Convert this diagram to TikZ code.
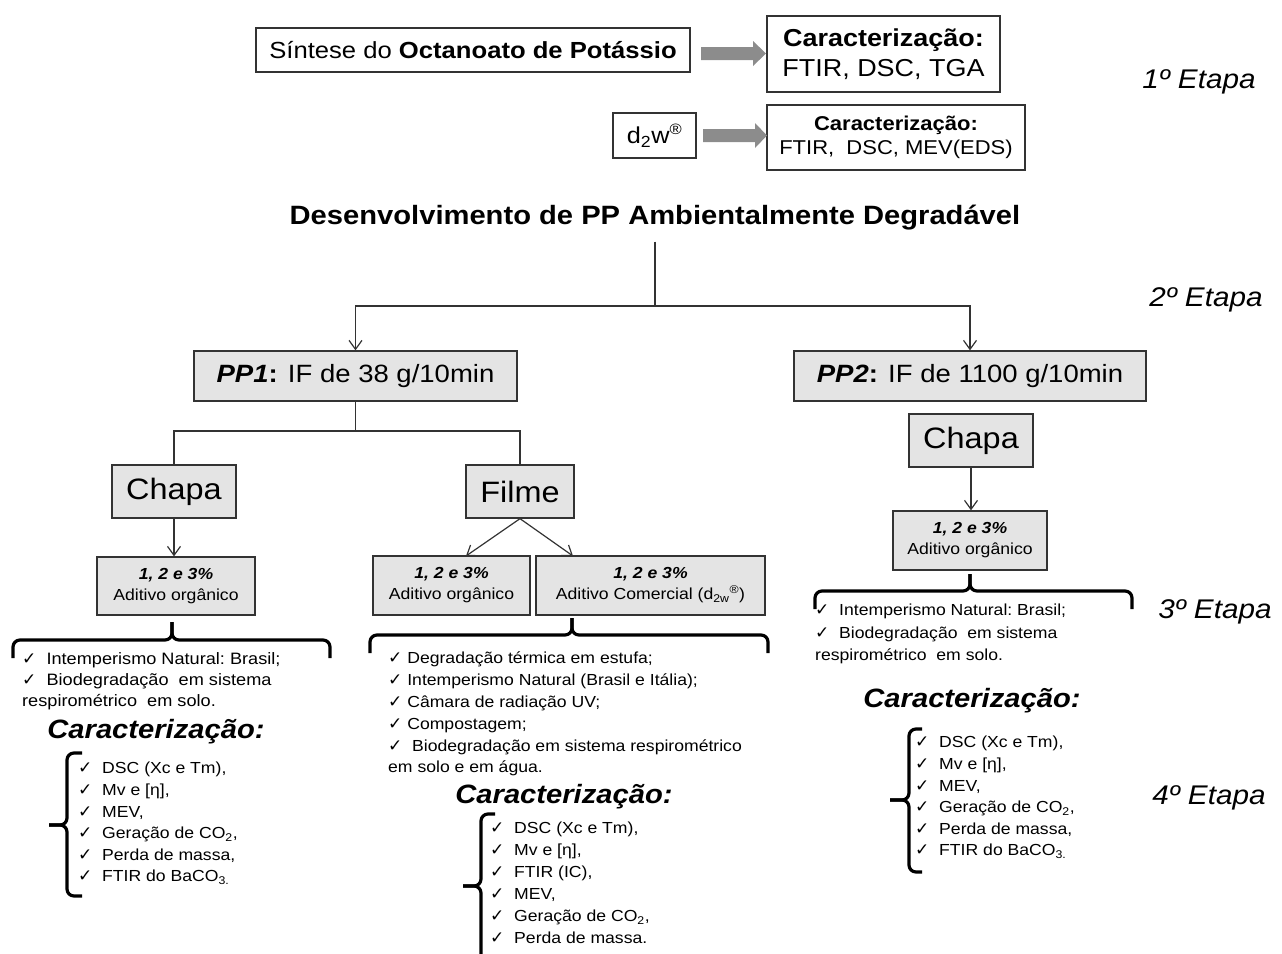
\documentclass[tikz,border=0pt]{standalone}
\usepackage{fontspec}
\setmainfont{Liberation Sans}[FakeStretch=1.1]
\newfontfamily\symfont{DejaVu Sans}
\usetikzlibrary{arrows.meta}
\definecolor{ink}{HTML}{333333}
\definecolor{boxgray}{HTML}{E4E4E4}
\definecolor{arrowgray}{HTML}{8C8C8C}
\newcommand{\ck}{{\symfont\fontsize{17}{15}\selectfont ✓}}
\newcommand{\fs}[2]{\fontsize{#1}{#2}\selectfont}
\tikzset{
  plain/.style={draw=ink, line width=1.3pt, fill=white, inner sep=0pt, align=center},
  shaded/.style={plain, fill=boxgray},
  link/.style={draw=ink, line width=1.2pt},
  arr/.style={link, -{Straight Barb[length=9pt,width=13pt,line width=1.2pt]}},
  bracket/.style={draw=black, line width=3.2pt, rounded corners=7pt},
  etapa/.style={font=\fs{27}{30}\itshape, inner sep=0pt},
  head/.style={font=\fs{26.5}{28}\bfseries\itshape, inner sep=0pt},
  list/.style={anchor=north west, align=left, inner sep=0pt},
  pct/.style={shaded, font=\fs{16}{21}},
}
\begin{document}
\begin{tikzpicture}[x=1pt,y=-1pt]
\useasboundingbox (0,0) rectangle (1282,953);

% ---- step 1: synthesis and characterisation
\node[plain, minimum width=434, minimum height=44, font=\fs{23.3}{26}] (syn) at (473,50)
  {Síntese do \textbf{Octanoato de Potássio}};
\node[plain, minimum width=233, minimum height=76, font=\fs{24.5}{30}] (car1) at (883.5,54)
  {\textbf{Caracterização:}\\FTIR, DSC, TGA};
\node[plain, minimum width=83, minimum height=45, font=\fs{23}{26}] (dw) at (654.5,135.5)
  {d\textsubscript{2}w\textsuperscript{\fs{15}{15}®}};
\node[plain, minimum width=258, minimum height=65, font=\fs{20}{24}] (car2) at (896,137.5)
  {\textbf{Caracterização:}\\FTIR,\ \ DSC, MEV(EDS)};
\fill[arrowgray] (701,47) -- (753,47) -- (753,41) -- (766,53.5) -- (753,66) -- (753,60) -- (701,60) -- cycle;
\fill[arrowgray] (703,129) -- (755,129) -- (755,123) -- (767,135.5) -- (755,148) -- (755,142) -- (703,142) -- cycle;

\node[etapa] (e1) at (1199,82) {1º Etapa};

% ---- step 2: the two polypropylenes
\node[font=\fs{26.5}{28}\bfseries, inner sep=0pt] (title) at (655,218)
  {Desenvolvimento de PP Ambientalmente Degradável};
\coordinate (split) at (655,306);
\node[shaded, minimum width=323, minimum height=50, font=\fs{25}{28}] (pp1) at (355.5,376)
  {\textbf{\textit{PP1}:} IF de 38 g/10min};
\node[shaded, minimum width=352, minimum height=50, font=\fs{25}{28}] (pp2) at (970,376)
  {\textbf{\textit{PP2}:} IF de 1100 g/10min};
\draw[link, shorten <=11pt] (title.south) -- (split);
\draw[arr] (split) -| (pp1.north);
\draw[arr] (split) -| (pp2.north);
\node[etapa] (e2) at (1206,300) {2º Etapa};

% ---- PP1 branches
\coordinate (fork) at (355.5,431);
\node[shaded, minimum width=124, minimum height=53, font=\fs{29.5}{32}] (chapa1) at (174,491.5) {Chapa};
\node[shaded, minimum width=108, minimum height=53, font=\fs{29.5}{32}] (filme) at (520,491.5) {Filme};
\draw[link] (pp1.south) -- (fork);
\draw[link] (fork) -| (chapa1.north);
\draw[link] (fork) -| (filme.north);

\node[pct, minimum width=158, minimum height=58] (adL) at (176,586)
  {\textbf{\textit{1, 2 e 3\%}}\\Aditivo orgânico};
\node[pct, minimum width=157, minimum height=59] (adA) at (451.5,585.5)
  {\textbf{\textit{1, 2 e 3\%}}\\Aditivo orgânico};
\node[pct, minimum width=229, minimum height=59] (adB) at (650.5,585.5)
  {\textbf{\textit{1, 2 e 3\%}}\\Aditivo Comercial (d\textsubscript{2w}\textsuperscript{®})};
\draw[arr] (chapa1.south) -- (chapa1.south |- adL.north);
\coordinate (fa) at (466,556);
\coordinate (fb) at (573,556);
\draw[arr] (filme.south) -- (fa);
\draw[arr] (filme.south) -- (fb);

% ---- PP2 branch
\node[shaded, minimum width=124, minimum height=53, font=\fs{29.5}{32}] (chapa2) at (971,440.5) {Chapa};
\node[pct, minimum width=154, minimum height=59] (adR) at (970,540.5)
  {\textbf{\textit{1, 2 e 3\%}}\\Aditivo orgânico};
\draw[arr] (chapa2.south) -- (chapa2.south |- adR.north);

% ---- step 3: horizontal braces and tests
\draw[bracket] (13,658) |- (172,640) -- (172,622);
\draw[bracket] (330,658) |- (172,640) -- (172,622);
\draw[bracket] (370,653) |- (572,635) -- (572,618);
\draw[bracket] (768,653) |- (572,635) -- (572,618);
\draw[bracket] (815,609) |- (970,591) -- (970,574);
\draw[bracket] (1132,609) |- (970,591) -- (970,574);

\node[list, font=\fs{16.5}{21}] (tL) at (22,652)
  {\ck\ \ Intemperismo\ Natural:\ Brasil;\\
   \ck\ \ Biodegradação\ \ em\ sistema\\
   respirométrico\ \ em\ solo.};
\node[list, font=\fs{16}{21.8}] (tM) at (388,652)
  {\ck\ Degradação\ térmica em estufa;\\
   \ck\ Intemperismo\ Natural (Brasil e Itália);\\
   \ck\ Câmara\ de radiação UV;\\
   \ck\ Compostagem;\\
   \ck\ \ Biodegradação em sistema respirométrico\\
   em solo e em água.};
\node[list, font=\fs{16}{22.5}] (tR) at (815,604)
  {\ck\ \ Intemperismo\ Natural:\ Brasil;\\
   \ck\ \ Biodegradação\ \ em\ sistema\\
   respirométrico\ \ em\ solo.};
\node[etapa] (e3) at (1215,612) {3º Etapa};

% ---- step 4: characterisation
\node[head] (hL) at (156,732) {Caracterização:};
\node[head] (hM) at (564,797) {Caracterização:};
\node[head] (hR) at (972,701) {Caracterização:};

\draw[bracket] (82,753) -| (67,825) -- (49,825);
\draw[bracket] (82,896) -| (67,825) -- (49,825);
\draw[bracket] (495,814) -| (481,886) -- (463,886);
\draw[bracket] (495,962) -| (481,886) -- (463,886);
\draw[bracket] (922,729) -| (909,800) -- (890,800);
\draw[bracket] (922,872) -| (909,800) -- (890,800);

\node[list, font=\fs{16}{21.6}] (cL) at (78,762)
  {\ck\ \ DSC (Xc\ e Tm),\\
   \ck\ \ Mv e [η],\\
   \ck\ \ MEV,\\
   \ck\ \ Geração de CO\textsubscript{2},\\
   \ck\ \ Perda de massa,\\
   \ck\ \ FTIR\ do BaCO\textsubscript{3.}};
\node[list, font=\fs{16}{22}] (cM) at (490,822)
  {\ck\ \ DSC (Xc\ e Tm),\\
   \ck\ \ Mv e [η],\\
   \ck\ \ FTIR (IC),\\
   \ck\ \ MEV,\\
   \ck\ \ Geração de CO\textsubscript{2},\\
   \ck\ \ Perda de massa.};
\node[list, font=\fs{16}{21.6}] (cR) at (915,736)
  {\ck\ \ DSC (Xc\ e Tm),\\
   \ck\ \ Mv e [η],\\
   \ck\ \ MEV,\\
   \ck\ \ Geração de CO\textsubscript{2},\\
   \ck\ \ Perda de massa,\\
   \ck\ \ FTIR\ do BaCO\textsubscript{3.}};
\node[etapa] (e4) at (1209,798) {4º Etapa};
\end{tikzpicture}
\end{document}
